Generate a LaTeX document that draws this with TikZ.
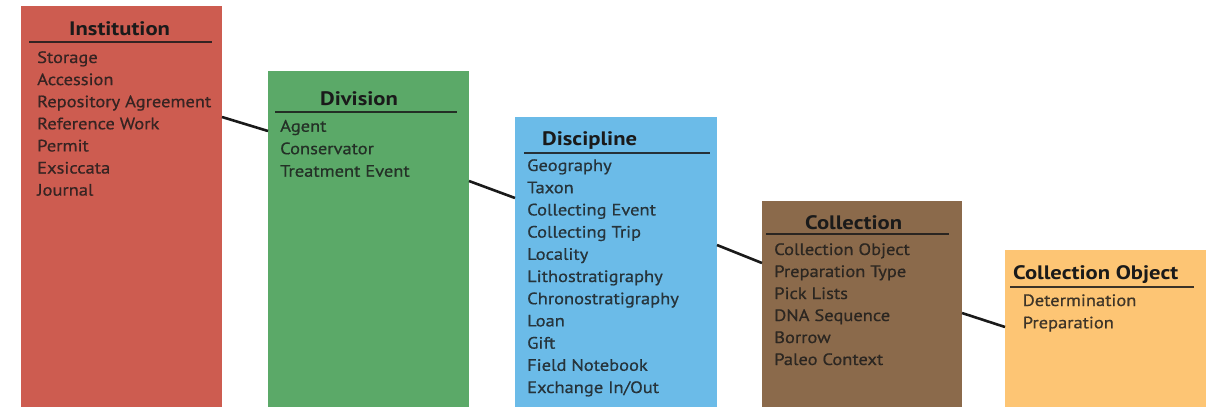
\documentclass[tikz,border=0pt]{standalone}
\usepackage{fontspec}
\setmainfont{PT Sans}
\newfontfamily\itemfont[FakeStretch=1.12,FakeBold=0.6]{PT Sans}
\newfontfamily\titlefont[FakeStretch=1.16]{PT Sans Bold}
\definecolor{instc}{HTML}{CD5C50}
\definecolor{divc}{HTML}{5BA968}
\definecolor{discc}{HTML}{6BBBE8}
\definecolor{collc}{HTML}{8B6A4B}
\definecolor{coc}{HTML}{FDC574}
\definecolor{ink}{HTML}{1A1A1A}
\tikzset{
  box/.style={anchor=north west, inner sep=0pt, outer sep=0pt, draw=none},
  title/.style={anchor=base west, inner sep=0pt, font=\titlefont\fontsize{19.5}{22}\selectfont, text=ink},
  item/.style={anchor=base west, inner sep=0pt, font=\itemfont\fontsize{16.5}{20}\selectfont, text=ink, text opacity=0.82},
  rule/.style={line width=2pt, draw=ink, draw opacity=0.85},
  link/.style={line width=2.6pt, draw=ink}
}
\begin{document}
\begin{tikzpicture}[x=1pt,y=-1pt]
\useasboundingbox (0,0) rectangle (1210,407);
% boxes
\node[box, fill=instc, minimum width=201pt, minimum height=401pt] (inst) at (21,6) {};
\node[box, fill=divc, minimum width=201pt, minimum height=336pt] (div) at (268,71) {};
\node[box, fill=discc, minimum width=202pt, minimum height=290pt] (disc) at (515,117) {};
\node[box, fill=collc, minimum width=200pt, minimum height=206pt] (coll) at (762,201) {};
\node[box, fill=coc, minimum width=201pt, minimum height=157pt] (co) at (1005,250) {};
% titles
\node[title] (inst-t) at (69,35) {Institution};
\node[title] (div-t) at (320,105) {Division};
\node[title] (disc-t) at (542,145) {Discipline};
\node[title] (coll-t) at (805,229) {Collection};
\node[title] (co-t) at (1013,279) {Collection Object};
% rules
\draw[rule] (29,42) -- (212,42);
\draw[rule] (275,112) -- (457,112);
\draw[rule] (524,153) -- (710,153);
\draw[rule] (766,233.5) -- (949,233.5);
\draw[rule] (1010,287) -- (1194,287);
% items
\foreach \t [count=\i] in {Storage,Accession,Repository Agreement,Reference Work,Permit,Exsiccata,Journal}
  \node[item] (inst-\i) at (37,{63+(\i-1)*22.1}) {\t};
\foreach \t [count=\i] in {Agent,Conservator,Treatment Event}
  \node[item] (div-\i) at (280,{131.7+(\i-1)*22.5}) {\t};
\foreach \t [count=\i] in {Geography,Taxon,Collecting Event,Collecting Trip,Locality,Lithostratigraphy,Chronostratigraphy,Loan,Gift,Field Notebook,Exchange In/Out}
  \node[item] (disc-\i) at (527,{171+(\i-1)*22.2}) {\t};
\foreach \t [count=\i] in {Collection Object,Preparation Type,Pick Lists,DNA Sequence,Borrow,Paleo Context}
  \node[item] (coll-\i) at (774,{255+(\i-1)*22.0}) {\t};
\foreach \t [count=\i] in {Determination,Preparation}
  \node[item] (co-\i) at (1022.5,{306+(\i-1)*22.3}) {\t};
% connectors
\draw[link] ([yshift=-111pt]inst.north east) -- ([yshift=-60pt]div.north west);
\draw[link] ([yshift=-110pt]div.north east) -- ([yshift=-81pt]disc.north west);
\draw[link] ([yshift=-128pt]disc.north east) -- ([yshift=-62pt]coll.north west);
\draw[link] ([yshift=-112pt]coll.north east) -- ([yshift=-77pt]co.north west);
\end{tikzpicture}
\end{document}
